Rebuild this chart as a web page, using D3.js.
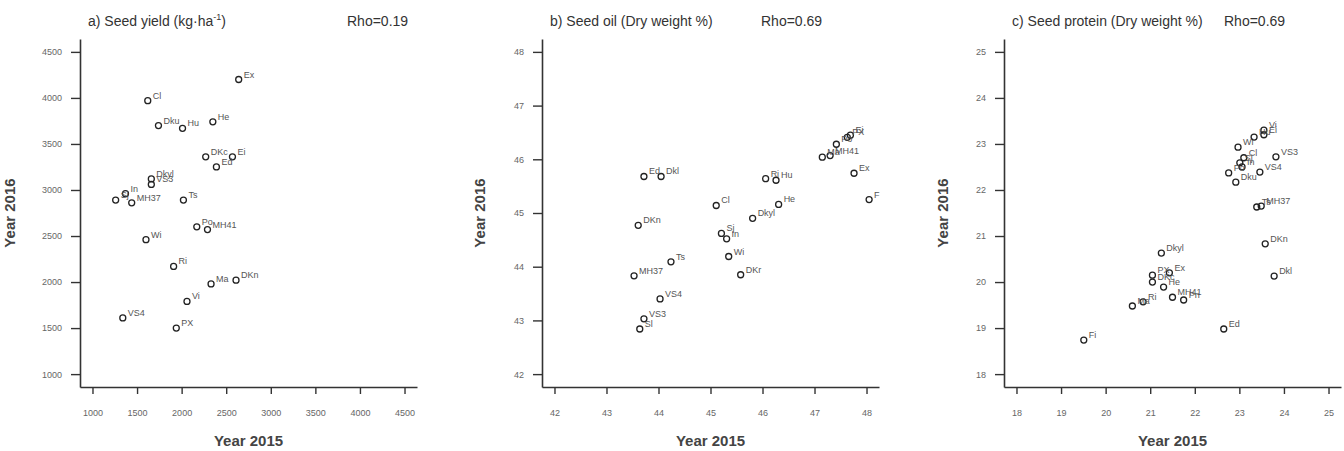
<!DOCTYPE html>
<html lang="en">
<head>
<meta charset="utf-8">
<title>seed traits 2015 vs 2016</title>
<script src="https://cdn.jsdelivr.net/npm/d3@7"></script>
<style>
  body { margin: 0; background: #fff; }
  text { font-family: "Liberation Sans", Arial, sans-serif; }
</style>
</head>
<body>
<div id="chart"></div>
<script>
// a) seed yield
var yieldNames = ["Ex","Cl","Dku","Hu","He","DKc","Ei","Ed","Dkyl","VS3","Sj","In","MH37","Ts","Po","MH41","Wi","Ri","Ma","DKn","Vi","VS4","PX"]
var yield2015 = [2640,1620,1740,2010,2350,2270,2570,2390,1660,1660,1260,1370,1440,2020,2170,2290,1600,1910,2330,2610,2060,1340,1940]
var yield2016 = [4200,3970,3700,3670,3740,3360,3360,3250,3120,3060,2890,2960,2860,2890,2600,2570,2460,2170,1980,2020,1790,1610,1500]
var yieldTicks = [1000,1500,2000,2500,3000,3500,4000,4500]

// b) seed oil
var oilNames = ["Ed","Dkl","DKn","Cl","Ri","Hu","Dkyl","He","Ma","MH41","Po","PX","Ei","Ex","F","Sj","In","Wi","DKr","Ts","MH37","VS4","VS3","Sl"]
var oil2015 = [43.72,44.05,43.61,45.11,46.06,46.26,45.81,46.31,47.15,47.30,47.42,47.63,47.69,47.76,48.05,45.21,45.31,45.35,45.58,44.24,43.53,44.03,43.72,43.64]
var oil2016 = [45.68,45.68,44.77,45.14,45.64,45.61,44.90,45.16,46.04,46.07,46.28,46.41,46.45,45.74,45.25,44.62,44.52,44.19,43.85,44.09,43.83,43.40,43.03,42.84]
var oilTicks = [42,43,44,45,46,47,48]

// c) seed protein
var proteinNames = ["Vi","Ei","Hu","Wi","VS3","Cl","Sj","In","Po","Dku","VS4","Ts","MH37","DKn","Dkl","Dkyl","Ed","Fi","Ma","Ri","PX","DKc","He","Ex","MH41","Pn"]
var protein2015 = [23.55,23.55,23.33,22.97,23.82,23.10,23.01,23.06,22.76,22.92,23.46,23.39,23.49,23.58,23.78,21.25,22.65,19.51,20.60,20.84,21.05,21.05,21.30,21.43,21.50,21.75]
var protein2016 = [23.30,23.20,23.15,22.93,22.72,22.70,22.59,22.50,22.37,22.17,22.39,21.63,21.65,20.83,20.13,20.63,18.98,18.74,19.48,19.57,20.15,20.00,19.89,20.20,19.67,19.61]
var proteinTicks = [18,19,20,21,22,23,24,25]

var rhoLabels = ["Rho=0.19","Rho=0.69","Rho=0.69"]

var W = 1344, H = 451
var svg = d3.select("#chart").append("svg").attr("width",W).attr("height",H)

var panels = [
  {title:"a) Seed yield (kg\u00b7ha", sup:true, names:yieldNames, x:yield2015, y:yield2016, ticks:yieldTicks, rho:rhoLabels[0]},
  {title:"b) Seed oil (Dry weight %)", sup:false, names:oilNames, x:oil2015, y:oil2016, ticks:oilTicks, rho:rhoLabels[1]},
  {title:"c) Seed protein (Dry weight %)", sup:false, names:proteinNames, x:protein2015, y:protein2016, ticks:proteinTicks, rho:rhoLabels[2]}
]

var x0s = [80,542,1004]
var rhoX = [267,219,220]
var yTitleX = [-65,-57,-56]
var pw = 337, plotTop = 39, plotBottom = 387

panels.forEach(function(p,i){
  var lo = p.ticks[0], hi = p.ticks[p.ticks.length-1], pad = (hi-lo)*0.04
  var xs = d3.scaleLinear().domain([lo-pad,hi+pad]).range([x0s[i],x0s[i]+pw])
  var ys = d3.scaleLinear().domain([lo-pad,hi+pad]).range([plotBottom,plotTop])
  var g = svg.append("g")

  var xa = g.append("g").attr("transform","translate(0,"+plotBottom+")")
    .call(d3.axisBottom(xs).tickValues(p.ticks).tickFormat(d3.format("d")).tickSize(7).tickSizeOuter(0).tickPadding(16))
  var ya = g.append("g").attr("transform","translate("+x0s[i]+",0)")
    .call(d3.axisLeft(ys).tickValues(p.ticks).tickFormat(d3.format("d")).tickSize(9).tickSizeOuter(0).tickPadding(9))
  ;[xa,ya].forEach(function(a){
    a.select(".domain").attr("stroke","#333").attr("stroke-width",1.6)
    a.selectAll(".tick line").attr("stroke","#333").attr("stroke-width",1.4)
    a.selectAll(".tick text").attr("fill","#666").style("font-size","9px")
  })

  // title
  var t = g.append("text").attr("x",x0s[i]+8).attr("y",26)
    .attr("fill","#333").style("font-size","14px").text(p.title)
  if(p.sup){
    t.append("tspan").attr("dy",-6).style("font-size","9px").text("-1")
    t.append("tspan").attr("dy",6).text(")")
  }
  g.append("text").attr("x",x0s[i]+rhoX[i]).attr("y",26)
    .attr("fill","#333").style("font-size","14px").text(p.rho)

  // axis titles
  g.append("text").attr("x",x0s[i]+pw/2).attr("y",446).attr("text-anchor","middle")
    .attr("fill","#444").style("font-size","15px").style("font-weight","bold").text("Year 2015")
  g.append("text").attr("transform","translate("+(x0s[i]+yTitleX[i])+",213) rotate(-90)")
    .attr("text-anchor","middle").attr("fill","#444").style("font-size","15px").style("font-weight","bold")
    .text("Year 2016")

  var idx = d3.range(p.names.length)
  g.selectAll("circle").data(idx).enter().append("circle")
    .attr("cx",function(d){ return xs(p.x[d]) })
    .attr("cy",function(d){ return ys(p.y[d]) })
    .attr("r",3)
    .attr("fill","none").attr("stroke","#222").attr("stroke-width",1.3)
  g.selectAll(".lab").data(idx).enter().append("text").attr("class","lab")
    .attr("x",function(d){ return xs(p.x[d])+5 })
    .attr("y",function(d){ return ys(p.y[d])-2 })
    .attr("fill","#555").style("font-size","9px")
    .text(function(d){ return p.names[d] })
})
</script>
</body>
</html>
